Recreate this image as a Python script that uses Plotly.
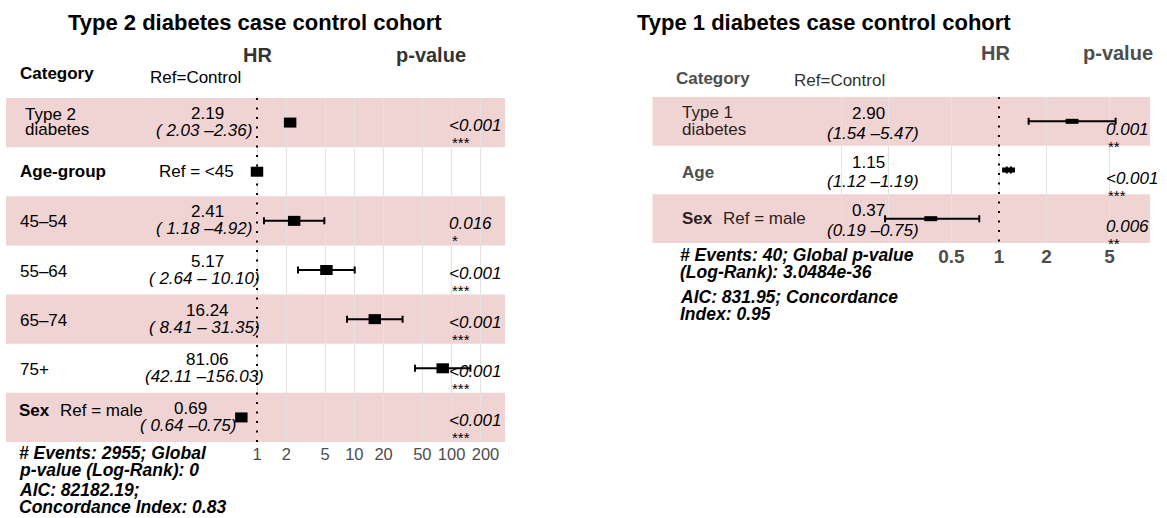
import plotly.graph_objects as go

W, H = 1167, 518
FONT = "Liberation Sans, Arial, Helvetica, sans-serif"

# ---------------- data: Type 2 diabetes cohort (left panel) ----------------
t2_title = "Type 2 diabetes case control cohort"
t2_rows = [1, 3, 4, 5, 6, 7]
t2_hr = [2.19, 2.41, 5.17, 16.24, 81.06, 0.69]
t2_lo = [2.03, 1.18, 2.64, 8.41, 42.11, 0.64]
t2_hi = [2.36, 4.92, 10.10, 31.35, 156.03, 0.75]
t2_p = ["&lt;0.001", "0.016", "&lt;0.001", "&lt;0.001", "&lt;0.001", "&lt;0.001"]
t2_stars = ["***", "*", "***", "***", "***", "***"]
t2_ref_rows = [0, 2]
t2_ref_hr = [1, 1]
t2_ticks = [1, 2, 5, 10, 20, 50, 100, 200]
t2_ticktext = ["1", "2", "5", "10", "20", "50", "100", "\u00a0\u00a0200"]
t2_notes = ["# Events: 2955; Global", "p-value (Log-Rank): 0",
            "AIC: 82182.19;", "Concordance Index: 0.83"]

# ---------------- data: Type 1 diabetes cohort (right panel) ----------------
t1_title = "Type 1 diabetes case control cohort"
t1_rows = [1, 2, 3]
t1_hr = [2.90, 1.15, 0.37]
t1_lo = [1.54, 1.12, 0.19]
t1_hi = [5.47, 1.19, 0.75]
t1_p = ["0.001", "&lt;0.001", "0.006"]
t1_stars = ["**", "***", "**"]
t1_ref_rows = [0]
t1_ref_hr = [1]
t1_grid = [0.1, 0.2, 0.5, 1, 2, 5]
t1_ticktext = ["", "", "0.5", "1", "2", "5"]
t1_notes = ["# Events: 40; Global p-value", "(Log-Rank): 3.0484e-36",
            "AIC: 831.95; Concordance", "Index: 0.95"]

NB = "\u00a0"


def fmt_ci(lo, hi, pad_lo=True):
    a = f"{lo:5.2f}" if pad_lo else f"{lo:.2f}"
    b = f"{hi:6.2f}" if hi >= 10 else f"{hi:.2f}"
    return "(" + a.replace(" ", NB) + " –" + b.replace(" ", NB) + ")"


def X(p):
    return p / W


def Y(p):
    return 1 - p / H


annotations = []


def ann(x, y, text, size=17, color="#000000", xanchor="left", yanchor="middle"):
    annotations.append(dict(x=X(x), y=Y(y), xref="paper", yref="paper", text=text,
                            showarrow=False, xanchor=xanchor, yanchor=yanchor,
                            font=dict(family=FONT, size=size, color=color)))


fig = go.Figure()

BLACK = "#000000"
PINK = "rgba(205,108,108,0.3)"

# ---------------- left panel geometry ----------------
L_x0, L_x1, L_one, L_dec = 6, 505, 257, 97.3
L_y0, L_y1, L_n = 98, 442, 7
L_rh = (L_y1 - L_y0) / L_n


def Lrow(k):
    return L_y0 + (k - 0.5) * L_rh


# ---------------- right panel geometry ----------------
R_x0, R_x1, R_one, R_dec = 652.5, 1150, 999, 158
R_y0, R_y1, R_n = 97, 243, 3
R_rh = (R_y1 - R_y0) / R_n


def Rrow(k):
    return R_y0 + (k - 0.5) * R_rh


def est_trace(hr, lo, hi, rows, xa, ya, size, lw):
    return go.Scatter(
        x=hr, y=rows, mode="markers", xaxis=xa, yaxis=ya, cliponaxis=False,
        hoverinfo="skip", showlegend=False,
        marker=dict(symbol="line-ew", size=size, color=BLACK,
                    line=dict(color=BLACK, width=lw)),
        error_x=dict(type="data", symmetric=False,
                     array=[h - m for h, m in zip(hi, hr)],
                     arrayminus=[m - l for m, l in zip(hr, lo)],
                     color=BLACK, thickness=2, width=3.5))


def ref_trace(hr, rows, xa, ya, size, lw):
    return go.Scatter(
        x=hr, y=rows, mode="markers", xaxis=xa, yaxis=ya, cliponaxis=False,
        hoverinfo="skip", showlegend=False,
        marker=dict(symbol="line-ew", size=size, color=BLACK,
                    line=dict(color=BLACK, width=lw)))


fig.add_trace(est_trace(t2_hr, t2_lo, t2_hi, t2_rows, "x", "y", 8.9, 10))
fig.add_trace(ref_trace(t2_ref_hr, t2_ref_rows, "x", "y", 8.9, 10))
fig.add_trace(est_trace(t1_hr, t1_lo, t1_hi, t1_rows, "x2", "y2", 9.2, 5))
fig.add_trace(ref_trace(t1_ref_hr, t1_ref_rows, "x2", "y2", 9.2, 5))

shapes = []
for k in range(1, L_n + 1, 2):
    shapes.append(dict(type="rect", xref="paper", yref="y", x0=X(L_x0), x1=X(L_x1),
                       y0=k - 0.5, y1=k + 0.5, fillcolor=PINK, line=dict(width=0),
                       layer="between"))
for k in range(1, R_n + 1, 2):
    shapes.append(dict(type="rect", xref="paper", yref="y2", x0=X(R_x0), x1=X(R_x1),
                       y0=k - 0.5, y1=k + 0.5, fillcolor=PINK, line=dict(width=0),
                       layer="between"))
shapes.append(dict(type="line", xref="x", yref="y", x0=1, x1=1, y0=0.5, y1=L_n + 0.5,
                   line=dict(color=BLACK, width=2, dash="2px,7.5px")))
shapes.append(dict(type="line", xref="x2", yref="y2", x0=1, x1=1, y0=0.5, y1=R_n + 0.5,
                   line=dict(color=BLACK, width=2, dash="2px,7.5px")))

# ---------------- left panel text ----------------
ann(255, 22, "<b>" + t2_title + "</b>", size=22, xanchor="center")
ann(257.5, 55, "<b>HR</b>", size=20, color="#333333", xanchor="center")
ann(431, 55, "<b>p-value</b>", size=20, color="#333333", xanchor="center")
ann(18, 73, "<b>Category</b>")
ann(148, 77, "Ref=Control")
ann(23, 114, "Type 2")
ann(23, 130, "diabetes")
ann(18, 171, "<b>Age-group</b>")
ann(157, 171, "Ref = &lt;45")
for lab, k in zip(["45–54", "55–64", "65–74", "75+"], [3, 4, 5, 6]):
    ann(18, Lrow(k) + 1, lab)
ann(17, 410, "<b>Sex</b>")
ann(58, 410, "Ref = male")

for i, k in enumerate(t2_rows):
    cx_hr, cx_ci = (207, 204) if k != 7 else (190, 188)
    ann(cx_hr, Lrow(k) - 9, f"{t2_hr[i]:.2f}", xanchor="center")
    ann(cx_ci, Lrow(k) + 8, "<i>" + fmt_ci(t2_lo[i], t2_hi[i]) + "</i>", xanchor="center")
    ann(447, Lrow(k) + 3, "<i>" + t2_p[i] + "</i>")
    ann(450, Lrow(k) + 20, t2_stars[i], size=15)

for i, t in enumerate(t2_notes):
    ann(17, [453, 470, 490, 507][i], "<b><i>" + t + "</i></b>", size=17.5)

# ---------------- right panel text ----------------
RDARK = "#2e1f1f"
ann(824, 22, "<b>" + t1_title + "</b>", size=22, xanchor="center")
ann(995.6, 53.5, "<b>HR</b>", size=20, color="#4d4d4d", xanchor="center")
ann(1118, 53.5, "<b>p-value</b>", size=20, color="#4d4d4d", xanchor="center")
ann(674, 78, "<b>Category</b>", color="#4d4d4d")
ann(792, 80, "Ref=Control", color="#333333")
ann(680, 112, "Type 1", color=RDARK)
ann(680, 129, "diabetes", color=RDARK)
ann(680, 172, "<b>Age</b>", color="#4d4d4d")
ann(680, 219, "<b>Sex</b>", color=RDARK)
ann(721, 219, "Ref = male", color=RDARK)

for i, k in enumerate(t1_rows):
    ann(868.5, Rrow(k) - 8, f"{t1_hr[i]:.2f}", xanchor="center")
    ann(873, Rrow(k) + 12, "<i>" + fmt_ci(t1_lo[i], t1_hi[i], pad_lo=False) + "</i>",
        xanchor="center")
    ann(1104, Rrow(k) + 8, "<i>" + t1_p[i] + "</i>")
    ann(1106, Rrow(k) + 25, t1_stars[i], size=15)

for i, t in enumerate(t1_notes):
    ann(678, [255, 272, 297, 314][i], "<b><i>" + t + "</i></b>", size=17.5)

GRID = "#e3e3e3"
fig.update_layout(
    width=W, height=H, margin=dict(l=0, r=0, t=0, b=0),
    paper_bgcolor="white", plot_bgcolor="rgba(0,0,0,0)",
    showlegend=False, shapes=shapes, annotations=annotations,
    font=dict(family=FONT),
    xaxis=dict(domain=[X(L_x0), X(L_x1)], type="log",
               range=[(L_x0 - L_one) / L_dec, (L_x1 - L_one) / L_dec],
               tickmode="array", tickvals=t2_ticks, ticktext=t2_ticktext,
               showgrid=True, gridcolor=GRID, gridwidth=1, zeroline=False,
               showline=False, ticks="", anchor="y", tickangle=0,
               tickfont=dict(family=FONT, size=16.5, color="#4d4d4d")),
    yaxis=dict(domain=[Y(L_y1), Y(L_y0)], range=[L_n + 0.5, 0.5], visible=False,
               anchor="x"),
    xaxis2=dict(domain=[X(R_x0), X(R_x1)], type="log",
                range=[(R_x0 - R_one) / R_dec, (R_x1 - R_one) / R_dec],
                tickmode="array", tickvals=t1_grid, ticktext=t1_ticktext,
                showgrid=True, gridcolor=GRID, gridwidth=1, zeroline=False,
                showline=False, ticks="", anchor="y2", tickangle=0,
                tickfont=dict(family=FONT, size=19, color="#4d4d4d", weight="bold")),
    yaxis2=dict(domain=[Y(R_y1), Y(R_y0)], range=[R_n + 0.5, 0.5], visible=False,
                anchor="x2"),
)

fig.write_html("out.html", config={"displayModeBar": False},
               post_script="document.body.style.margin='0px';"
                           "document.body.style.overflow='hidden';")
